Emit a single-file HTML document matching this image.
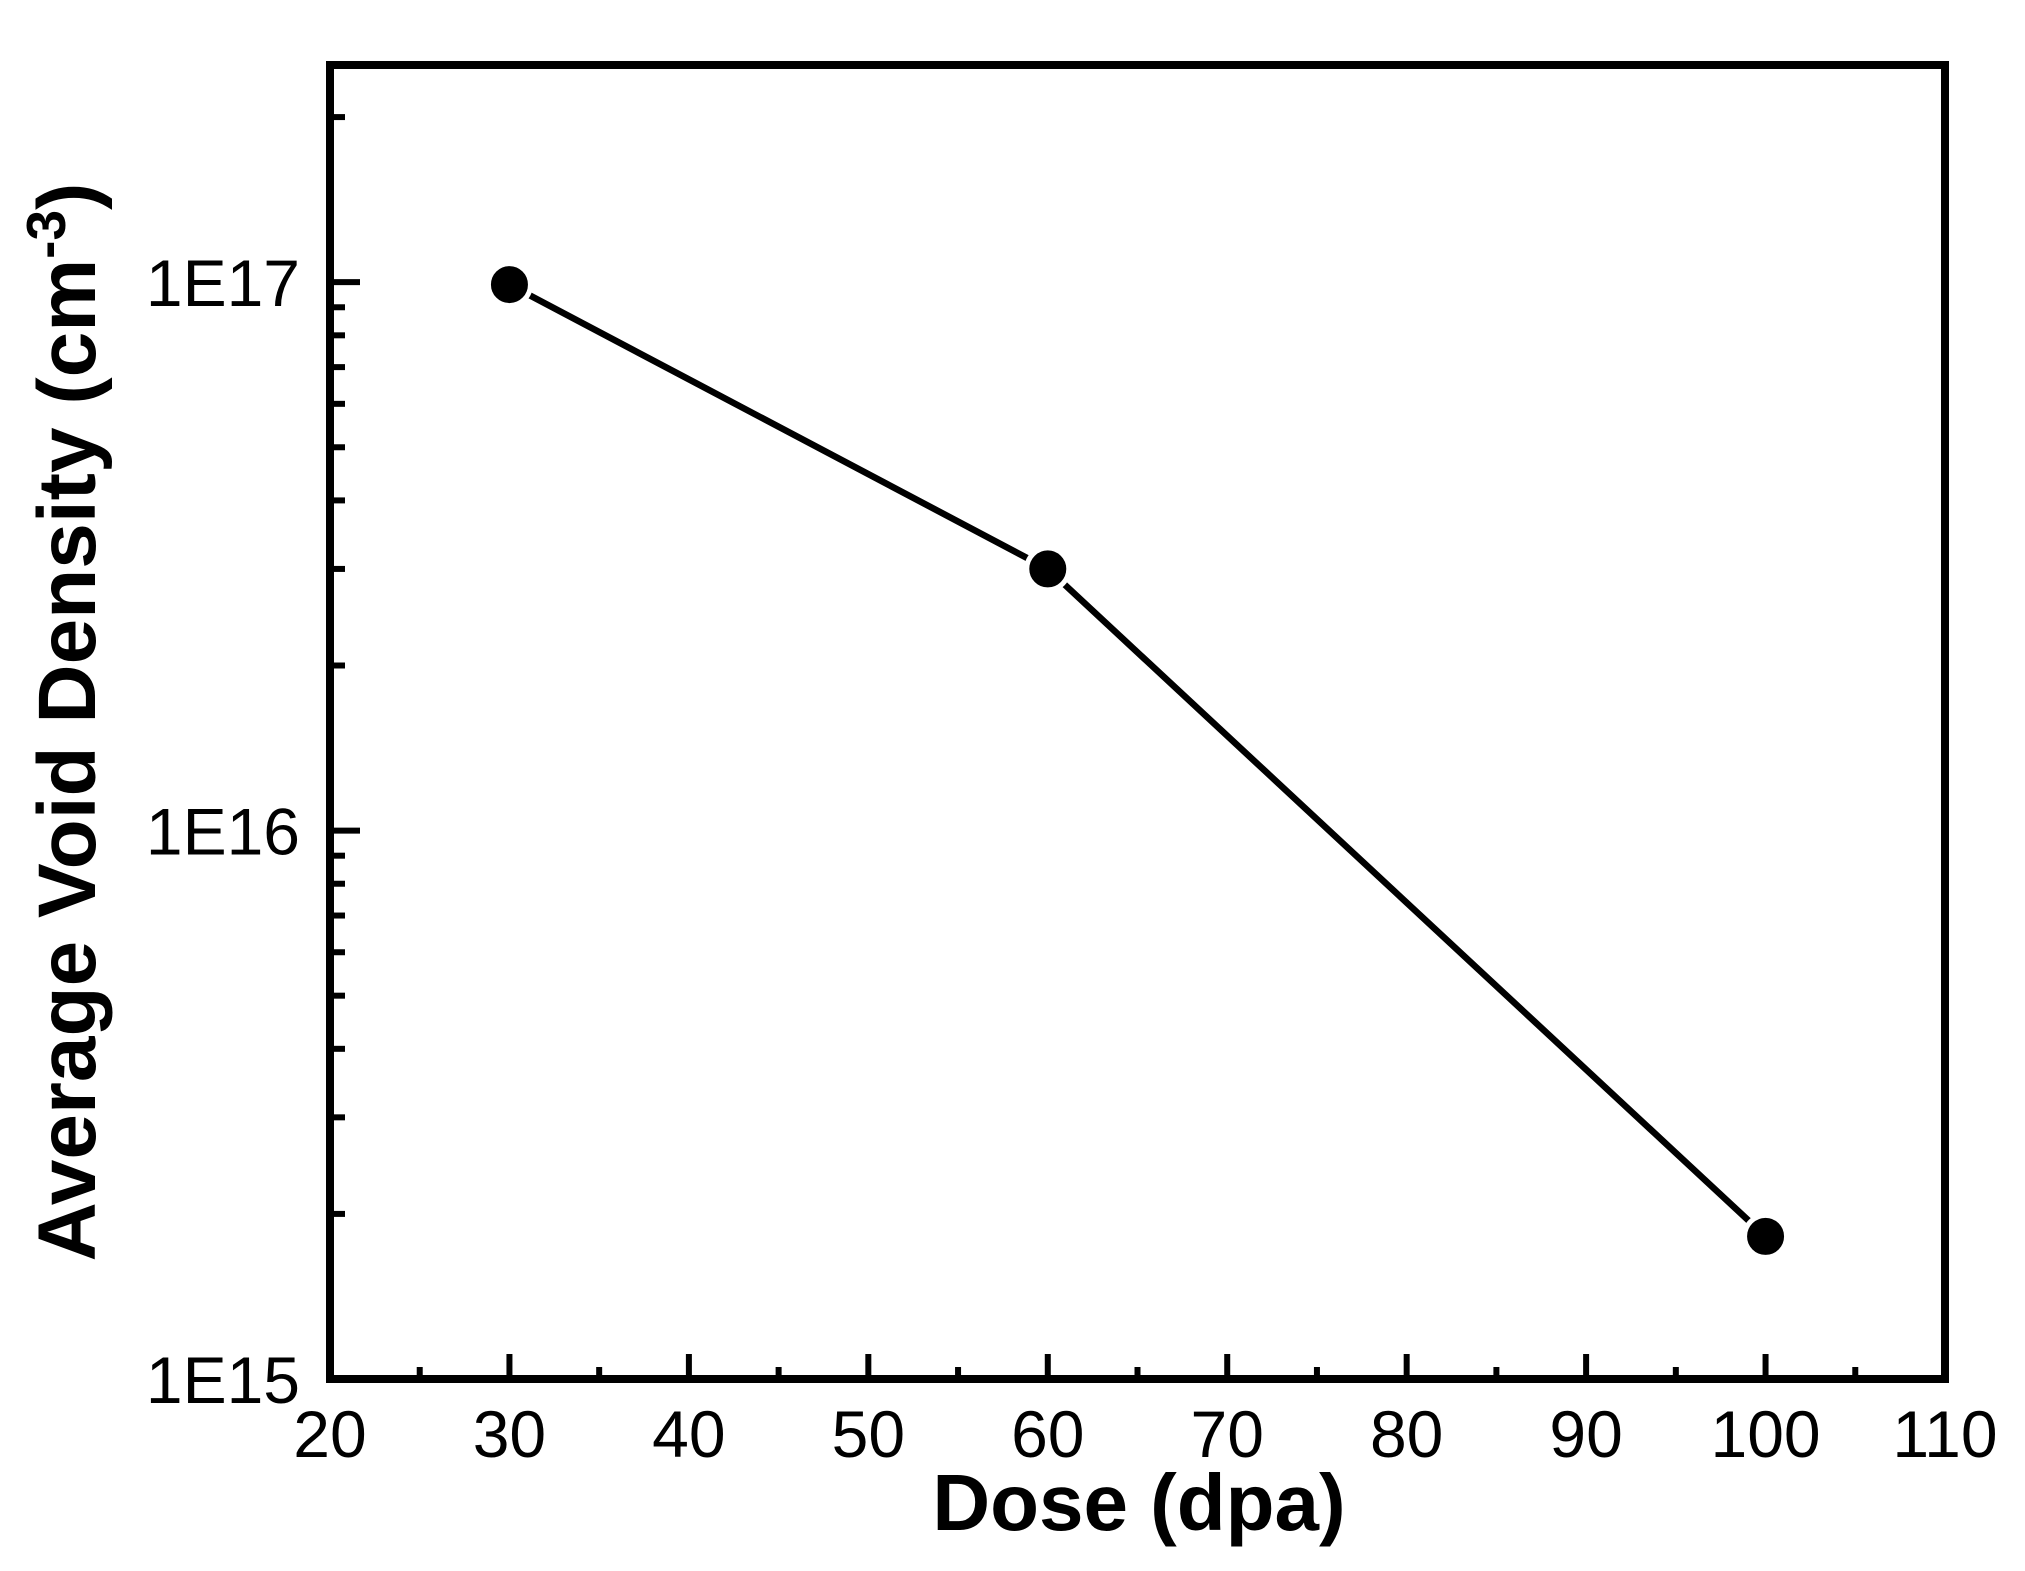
<!DOCTYPE html>
<html><head><meta charset="utf-8"><style>
html,body{margin:0;padding:0;background:#fff}
svg{display:block}
text{font-family:"Liberation Sans",Arial,sans-serif;fill:#000}
</style></head><body>
<svg id="chart" width="2025" height="1571" viewBox="0 0 2025 1571" xmlns="http://www.w3.org/2000/svg">
<g id="plot"></g>
</svg>
<script>
const doses = [30, 60, 100];
const densities = [9.9e16, 3.0e16, 1.82e15];
const xTicks = [20, 30, 40, 50, 60, 70, 80, 90, 100, 110];
const yTickExps = [15, 16, 17];
const yTickLabels = ["1E15", "1E16", "1E17"];

const L = 330, R = 1945, T = 65, B = 1379;
const xMin = 20, xMax = 110, yMinLog = 15, yMaxLog = 17.396;
const NS = "http://www.w3.org/2000/svg";
const g = document.getElementById('plot');
function X(v){ return L + (v - xMin) / (xMax - xMin) * (R - L); }
function Y(v){ return B - (Math.log10(v) - yMinLog) / (yMaxLog - yMinLog) * (B - T); }
function mk(tag, attrs){ const e = document.createElementNS(NS, tag); for (const k in attrs) e.setAttribute(k, attrs[k]); g.appendChild(e); return e; }

// x ticks
xTicks.forEach((t, i) => {
  const x = X(t);
  const tk = mk('line', {x1:x, x2:x, y1:B, y2:B-25, stroke:'#000','stroke-width':6});
  
  
  if (i < xTicks.length - 1) {
    const xm = X(t + 5);
    const mt = mk('line', {x1:xm, x2:xm, y1:B, y2:B-12, stroke:'#000','stroke-width':6});
    
    
  }
  const lb = mk('text', {x:x, y:1457, 'font-size':66, 'text-anchor':'middle'});
  lb.textContent = t;
  
  
});

// y ticks
yTickExps.forEach((e, i) => {
  const y = Y(Math.pow(10, e));
  const tk = mk('line', {x1:L, x2:L+30, y1:y, y2:y, stroke:'#000','stroke-width':6});
  
  
  const lb = mk('text', {x:300, y:y+24, 'font-size':66, 'text-anchor':'end'});
  lb.textContent = yTickLabels[i];
  
  
  for (let m = 2; m <= 9; m++) {
    const v = m * Math.pow(10, e);
    if (Math.log10(v) > yMaxLog) break;
    const ym = Y(v);
    const mt = mk('line', {x1:L, x2:L+15, y1:ym, y2:ym, stroke:'#000','stroke-width':6});
    
    
  }
});

// frame
const fr = mk('rect', {x:L, y:T, width:R-L, height:B-T, fill:'none', stroke:'#000', 'stroke-width':8});



// line
const pts = doses.map((d, i) => X(d) + ',' + Y(densities[i])).join(' ');
const pl = mk('polyline', {points:pts, fill:'none', stroke:'#000', 'stroke-width':6.5});


doses.forEach((d, i) => {
  const c = mk('circle', {cx:X(d), cy:Y(densities[i]), r:21, fill:'#000', stroke:'#fff', 'stroke-width':5});
  
  
});

// axis titles
const xt = mk('text', {x:1139, y:1530, 'font-size':80, 'font-weight':'bold', 'text-anchor':'middle'});
xt.textContent = 'Dose (dpa)';



const yt = mk('text', {x:0, y:0, 'font-size':82, 'font-weight':'bold', 'text-anchor':'middle', transform:'translate(95,722) rotate(-90)'});
yt.innerHTML = 'Average Void Density (cm<tspan dy="-30" font-size="55">-3</tspan><tspan dy="30">)</tspan>';


</script>
</body></html>
